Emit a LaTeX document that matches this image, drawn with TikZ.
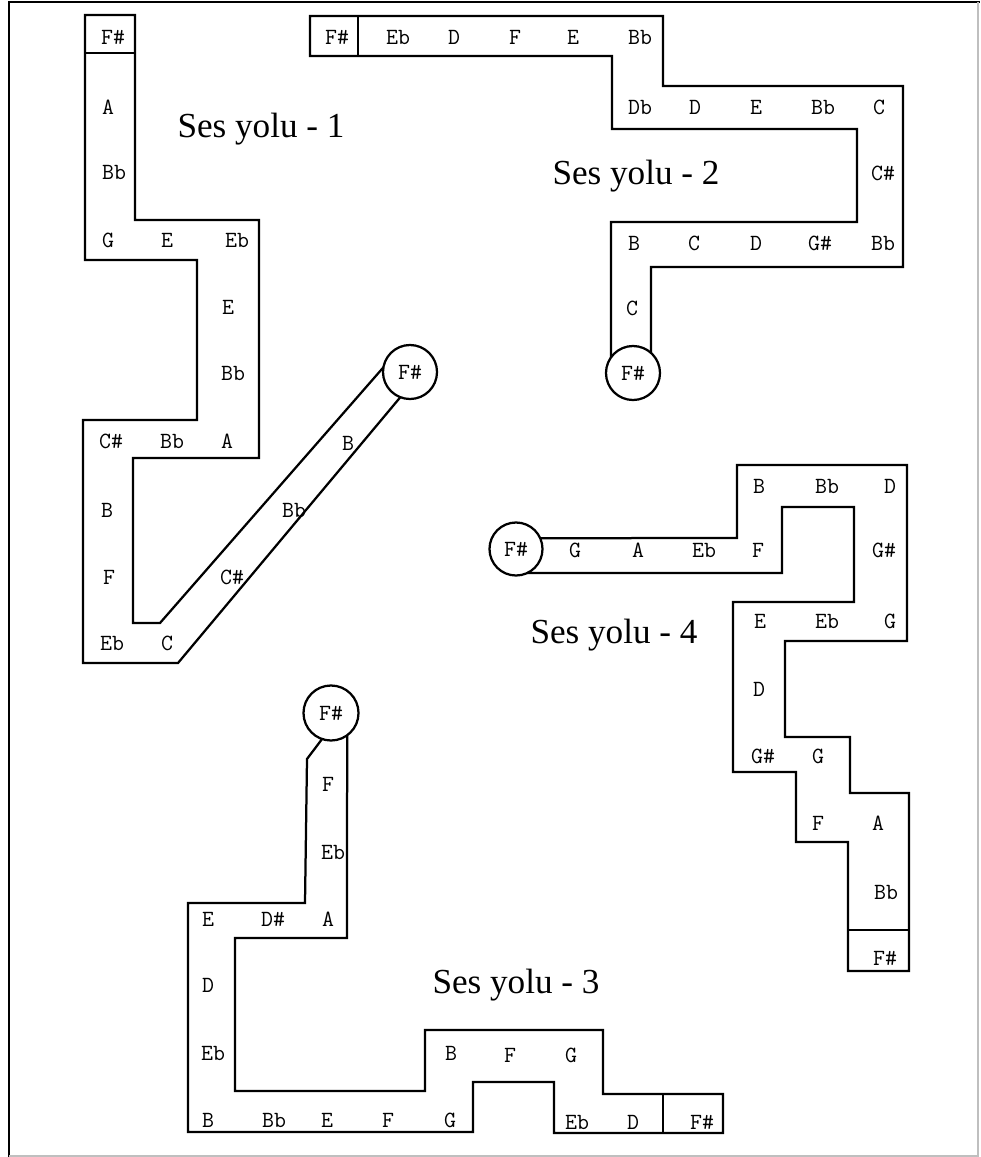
\documentclass[tikz,border=0pt]{standalone}
\usepackage{fontspec}
\setmainfont{Liberation Serif}
\usepackage{tikz}
\newcommand\notefont{\fontsize{16.5}{18}\selectfont\ttfamily\addfontfeatures{FakeBold=0.7}}
\newcommand\yolufont{\fontsize{25}{30}\selectfont\rmfamily}

\begin{document}
\begin{tikzpicture}[x=0.025cm,y=-0.025cm,
  yol/.style={line width=1.6pt,line join=miter},
  note/.style={font=\notefont,inner sep=1pt},
  ring/.style={circle,draw,line width=1.6pt,minimum size=1.35cm,inner sep=0pt,outer sep=0pt,font=\notefont},
  ttl/.style={font=\yolufont,anchor=base,inner sep=0pt}]
\useasboundingbox (0,0) rectangle (980,1157);
% frame
\draw[line width=1.7pt] (9,1157) -- (9,2) -- (980,2);
\draw[black!25,line width=0.8pt] (9,1156) -- (978,1156) -- (978,2);

% Ses yolu - 1
\node[ring] (a19) at (410,372) {F\#};
\draw[yol] (a19.170) -- (160,623) -- (133,623) -- (133,458) -- (259,458) -- (259,220) -- (135,220) -- (135,15) -- (85,15) -- (85,260) -- (197,260) -- (197,420) -- (83,420) -- (83,663) -- (178,663) -- (a19.249);
\draw[yol] (85,53) -- (135,53);
\node[note] (a01) at (113,37) {F\#};
\node[note] (a02) at (108,107) {A};
\node[note] (a03) at (114,172) {Bb};
\node[note] (a04) at (108,240) {G};
\node[note] (a05) at (167,240) {E};
\node[note] (a06) at (237,240) {Eb};
\node[note] (a07) at (228,307) {E};
\node[note] (a08) at (233,373) {Bb};
\node[note] (a09) at (111,441) {C\#};
\node[note] (a10) at (172,441) {Bb};
\node[note] (a11) at (227,441) {A};
\node[note] (a12) at (107,510) {B};
\node[note] (a13) at (109,577) {F};
\node[note] (a14) at (112,643) {Eb};
\node[note] (a15) at (167,643) {C};
\node[note] (a16) at (232,577) {C\#};
\node[note] (a17) at (294,510) {Bb};
\node[note] (a18) at (348,443) {B};
\node[ttl] (a20) at (261,137) {Ses yolu - 1};

% Ses yolu - 2
\node[ring] (b19) at (633,373) {F\#};
\draw[yol] (b19.145) -- (611,222) -- (857,222) -- (857,129) -- (612,129) -- (612,56) -- (310,56) -- (310,16) -- (663,16) -- (663,86) -- (903,86) -- (903,267) -- (651,267) -- (b19.48);
\draw[yol] (358,16) -- (358,56);
\node[note] (b01) at (337,37) {F\#};
\node[note] (b02) at (398,37) {Eb};
\node[note] (b03) at (454,37) {D};
\node[note] (b04) at (515,37) {F};
\node[note] (b05) at (573,37) {E};
\node[note] (b06) at (640,37) {Bb};
\node[note] (b07) at (640,107) {Db};
\node[note] (b08) at (695,107) {D};
\node[note] (b09) at (756,107) {E};
\node[note] (b10) at (823,107) {Bb};
\node[note] (b11) at (879,107) {C};
\node[note] (b12) at (883,173) {C\#};
\node[note] (b13) at (883,243) {Bb};
\node[note] (b14) at (820,243) {G\#};
\node[note] (b15) at (756,243) {D};
\node[note] (b16) at (694,243) {C};
\node[note] (b17) at (634,243) {B};
\node[note] (b18) at (632,308) {C};
\node[ttl] (b20) at (636,184) {Ses yolu - 2};

% Ses yolu - 3
\node[ring,minimum size=1.375cm] (c01) at (331,713) {F\#};
\draw[yol] (c01.-109) -- (307,759) -- (305,903) -- (188,903) -- (188,1132) -- (473,1132) -- (473,1082) -- (554,1082) -- (554,1133) -- (723,1133) -- (723,1094) -- (603,1094) -- (603,1030) -- (425,1030) -- (425,1091) -- (235,1091) -- (235,938) -- (347,938) -- (c01.-54);
\draw[yol] (663,1094) -- (663,1133);
\node[note] (c02) at (328,784) {F};
\node[note] (c03) at (333,852) {Eb};
\node[note] (c04) at (328,919) {A};
\node[note] (c05) at (273,919) {D\#};
\node[note] (c06) at (208,919) {E};
\node[note] (c07) at (208,985) {D};
\node[note] (c08) at (213,1053) {Eb};
\node[note] (c09) at (208,1120) {B};
\node[note] (c10) at (274,1120) {Bb};
\node[note] (c11) at (327,1120) {E};
\node[note] (c12) at (388,1120) {F};
\node[note] (c13) at (450,1120) {G};
\node[note] (c14) at (451,1053) {B};
\node[note] (c15) at (510,1055) {F};
\node[note] (c16) at (571,1055) {G};
\node[note] (c17) at (577,1122) {Eb};
\node[note] (c18) at (633,1122) {D};
\node[note] (c19) at (702,1122) {F\#};
\node[ttl] (c20) at (516,993) {Ses yolu - 3};

% Ses yolu - 4
\node[ring,minimum size=1.325cm] (d01) at (516,549) {F\#};
\draw[yol] (d01.24.5) -- (737,538) -- (737,465) -- (907,465) -- (907,641) -- (785,641) -- (785,737) -- (850,737) -- (850,793) -- (909,793) -- (909,971) -- (848,971) -- (848,842) -- (796,842) -- (796,772) -- (733,772) -- (733,602) -- (854,602) -- (854,507) -- (782,507) -- (782,573) -- (d01.-65);
\draw[yol] (848,930) -- (909,930);
\node[note] (d02) at (575,550) {G};
\node[note] (d03) at (638,550) {A};
\node[note] (d04) at (704,550) {Eb};
\node[note] (d05) at (758,550) {F};
\node[note] (d06) at (759,486) {B};
\node[note] (d07) at (827,486) {Bb};
\node[note] (d08) at (890,486) {D};
\node[note] (d09) at (884,550) {G\#};
\node[note] (d10) at (890,621) {G};
\node[note] (d11) at (827,621) {Eb};
\node[note] (d12) at (760,621) {E};
\node[note] (d13) at (759,689) {D};
\node[note] (d14) at (763,756) {G\#};
\node[note] (d15) at (818,756) {G};
\node[note] (d16) at (818,823) {F};
\node[note] (d17) at (878,823) {A};
\node[note] (d18) at (886,892) {Bb};
\node[note] (d19) at (885,958) {F\#};
\node[ttl] (d20) at (614,643) {Ses yolu - 4};
\end{tikzpicture}
\end{document}
